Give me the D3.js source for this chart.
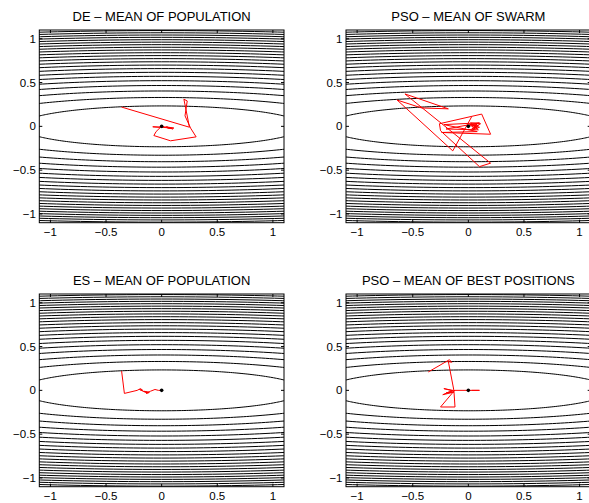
<!DOCTYPE html>
<html>
<head>
<meta charset="utf-8">
<script src="https://cdn.jsdelivr.net/npm/d3@7"></script>
<style>
  html, body { margin: 0; padding: 0; background: #fff; }
  svg { display: block; }
  text { font-family: "Liberation Sans", Arial, Helvetica, sans-serif; fill: #000; }
</style>
</head>
<body>
<svg id="chart" width="589" height="503"></svg>
<script>
// Objective: f(x, y) = x^2 + C_Y * y^2, drawn as equally spaced level sets
const C_Y = 30;
const contourLevels = [1.63, 3.26, 4.89, 6.52, 8.15, 9.78, 11.41, 13.04, 14.67, 16.30, 17.93,
  19.57, 21.20, 22.83, 24.46, 26.09, 27.72, 29.35, 30.98, 32.61, 34.24, 35.87];

const axisLimits = [-1.1, 1.1];
const tickValues = [-1, -0.5, 0, 0.5, 1];
const tickLabels = ["\u22121", "\u22120.5", "0", "0.5", "1"];

const titles = [
  "DE \u2013 MEAN OF POPULATION",
  "PSO \u2013 MEAN OF SWARM",
  "ES \u2013 MEAN OF POPULATION",
  "PSO \u2013 MEAN OF BEST POSITIONS"
];

// Trajectories of the population / swarm mean, [x, y] per generation
const deMean = [
  [-0.36, 0.22], [0.25, -0.01], [0.20, 0.31], [0.23, 0.29], [0.21, 0.12], [0.26, -0.02],
  [0.31, -0.12], [0.08, -0.165], [-0.07, -0.105], [-0.05, -0.06], [-0.01, -0.01],
  [-0.08, -0.005], [0.11, -0.02], [0.04, -0.005], [0.10, -0.03], [0.05, -0.01],
  [0.09, -0.025], [0.03, -0.01], [0.07, -0.02], [0.02, -0.005], [0.0, 0.0]
];

const psoSwarmMean = [
  [0.03, 0.11], [-0.14, -0.28], [-0.64, 0.30], [-0.42, 0.21], [-0.18, 0.20], [-0.57, 0.37],
  [0.20, -0.42], [0.10, -0.46], [-0.25, -0.05], [-0.26, 0.03], [0.12, 0.14], [0.20, -0.09],
  [-0.24, -0.07], [0.08, -0.06], [-0.22, 0.02], [0.10, 0.04], [-0.20, -0.03], [0.09, -0.04],
  [0.02, 0.04], [0.11, 0.03], [0.03, -0.03], [0.08, 0.03], [0.04, -0.04], [0.10, -0.01],
  [0.02, 0.02], [0.09, 0.01], [0.05, -0.03], [0.07, 0.03], [0.03, 0.0], [0.08, -0.02],
  [0.05, 0.02], [0.0, 0.0]
];

const esMean = [
  [-0.36, 0.22], [-0.335, -0.035], [-0.22, 0.0], [-0.19, 0.02], [-0.17, 0.0], [-0.20, 0.01],
  [-0.15, -0.02], [-0.12, -0.03], [-0.16, -0.01], [-0.11, -0.02], [-0.14, -0.035],
  [-0.10, -0.01], [-0.06, 0.01], [-0.03, 0.0], [0.0, 0.0]
];

const psoBestMean = [
  [-0.36, 0.21], [-0.17, 0.35], [-0.15, 0.32], [-0.18, 0.33], [-0.13, 0.0], [-0.12, -0.19],
  [-0.25, -0.19], [-0.13, -0.01], [-0.22, 0.02], [-0.14, 0.0], [-0.23, -0.05],
  [-0.13, -0.02], [-0.20, -0.03], [-0.12, 0.0], [0.0, 0.0], [0.10, 0.0], [0.03, 0.0]
];

const trajectories = [deMean, psoSwarmMean, esMean, psoBestMean];

// Panel geometry (2 x 2 grid)
const panelW = 244.7, panelH = 192.7;
const panelOrigins = [[39.3, 30], [346, 30], [39.3, 294], [346, 294]];

const svg = d3.select("#chart");

panelOrigins.forEach(([left, top], i) => {
  const x = d3.scaleLinear().domain(axisLimits).range([left, left + panelW]);
  const y = d3.scaleLinear().domain(axisLimits).range([top + panelH, top]);

  const g = svg.append("g");
  const clipId = "clip" + i;
  g.append("clipPath").attr("id", clipId)
    .append("rect").attr("x", left).attr("y", top).attr("width", panelW).attr("height", panelH);

  const plot = g.append("g").attr("clip-path", `url(#${clipId})`);

  // Level sets x^2 + C_Y y^2 = L are ellipses
  const angles = d3.range(0, 360, 1).map(d => d * Math.PI / 180);
  const ellipse = d3.line()
    .x(d => x(d[0])).y(d => y(d[1]))
    .curve(d3.curveLinearClosed);
  plot.selectAll("path.contour")
    .data(contourLevels)
    .join("path")
    .attr("class", "contour")
    .attr("d", L => ellipse(angles.map(t => [Math.sqrt(L) * Math.cos(t), Math.sqrt(L / C_Y) * Math.sin(t)])))
    .attr("fill", "none")
    .attr("stroke", "#000")
    .attr("stroke-width", 1);

  // Trajectory of the mean
  const line = d3.line().x(d => x(d[0])).y(d => y(d[1]));
  plot.append("path")
    .attr("d", line(trajectories[i]))
    .attr("fill", "none")
    .attr("stroke", "#ff0000")
    .attr("stroke-width", 1)
    .attr("stroke-linejoin", "miter");

  // Optimum
  plot.append("circle")
    .attr("cx", x(0)).attr("cy", y(0)).attr("r", 1.8)
    .attr("fill", "#000");

  // Axes box
  g.append("rect")
    .attr("x", left).attr("y", top).attr("width", panelW).attr("height", panelH)
    .attr("fill", "none").attr("stroke", "#000").attr("stroke-width", 1);

  // Inward ticks on all four sides
  const tl = 3;
  const ticks = g.append("g").attr("stroke", "#000").attr("stroke-width", 1);
  tickValues.forEach(v => {
    ticks.append("line").attr("x1", x(v)).attr("x2", x(v)).attr("y1", top + panelH).attr("y2", top + panelH - tl);
    ticks.append("line").attr("x1", x(v)).attr("x2", x(v)).attr("y1", top).attr("y2", top + tl);
    ticks.append("line").attr("y1", y(v)).attr("y2", y(v)).attr("x1", left).attr("x2", left + tl);
    ticks.append("line").attr("y1", y(v)).attr("y2", y(v)).attr("x1", left + panelW).attr("x2", left + panelW - tl);
  });

  // Tick labels
  g.selectAll("text.xt").data(tickValues).join("text")
    .attr("class", "xt")
    .attr("x", v => x(v)).attr("y", top + panelH + 13.5)
    .attr("text-anchor", "middle").attr("font-size", "11.5px")
    .text((v, k) => tickLabels[k]);
  g.selectAll("text.yt").data(tickValues).join("text")
    .attr("class", "yt")
    .attr("x", left - 3.5).attr("y", v => y(v)).attr("dy", "0.36em")
    .attr("text-anchor", "end").attr("font-size", "11.5px")
    .text((v, k) => tickLabels[k]);

  // Title
  g.append("text")
    .attr("x", left + panelW / 2).attr("y", top - 9.5)
    .attr("text-anchor", "middle").attr("font-size", "13px")
    .text(titles[i]);
});
</script>
</body>
</html>
